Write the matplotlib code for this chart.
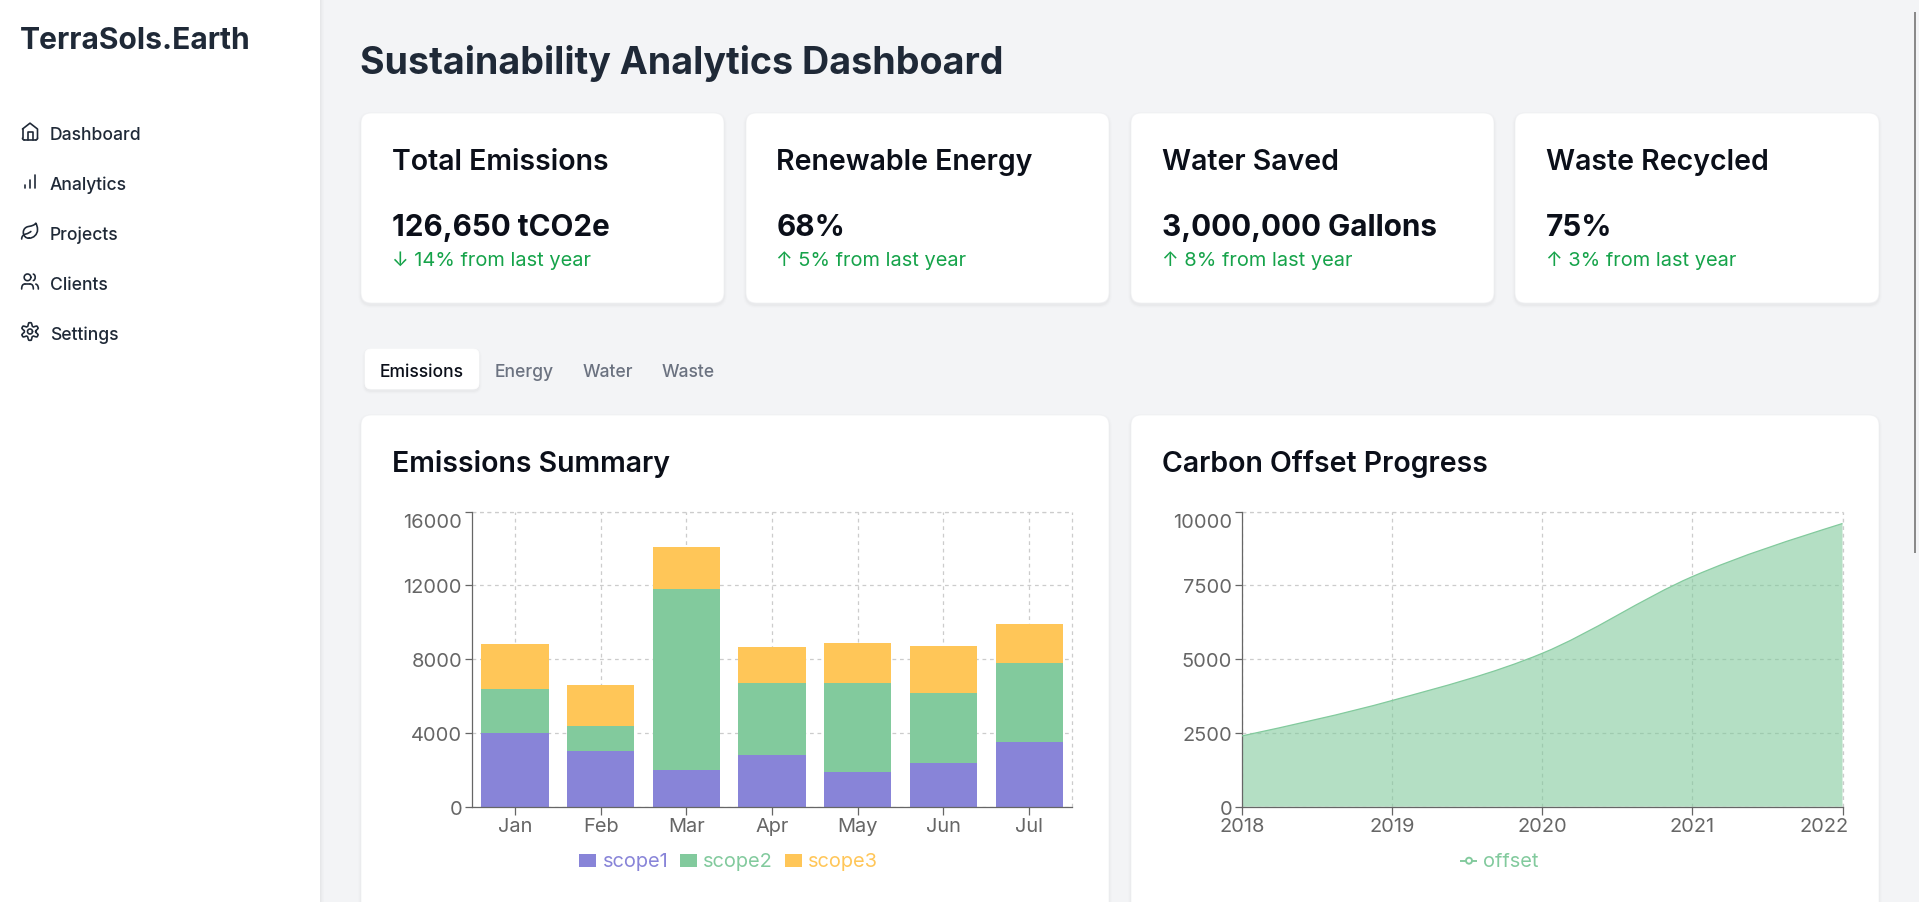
import numpy as np
import matplotlib
matplotlib.use('Agg')
import matplotlib.pyplot as plt
from matplotlib.patches import FancyBboxPatch, Rectangle, PathPatch, Circle
from matplotlib.path import Path
from matplotlib.transforms import ScaledTranslation

plt.rcParams['font.family'] = ['Inter', 'DejaVu Sans']
plt.rcParams['lines.scale_dashes'] = False

# chart data
months = ['Jan', 'Feb', 'Mar', 'Apr', 'May', 'Jun', 'Jul']
scope1 = [4000, 3000, 2000, 2780, 1890, 2390, 3490]
scope2 = [2400, 1398, 9800, 3908, 4800, 3800, 4300]
scope3 = [2400, 2210, 2290, 2000, 2181, 2500, 2100]
scope_names = ['scope1', 'scope2', 'scope3']
years = [2018, 2019, 2020, 2021, 2022]
offset = [2400, 3600, 5200, 7800, 9600]
bar_yticks = [0, 4000, 8000, 12000, 16000]
area_yticks = [0, 2500, 5000, 7500, 10000]

# page text
nav_items = ['Dashboard', 'Analytics', 'Projects', 'Clients', 'Settings']
card_titles = ['Total Emissions', 'Renewable Energy', 'Water Saved', 'Waste Recycled']
card_values = ['126,650 tCO2e', '68%', '3,000,000 Gallons', '75%']
card_deltas = ['↓ 14% from last year', '↑ 5% from last year', '↑ 8% from last year', '↑ 3% from last year']
tabs = ['Emissions', 'Energy', 'Water', 'Waste']

PX = 0.72  # one pixel in points at dpi 100
INK = '#1f2937'
TITLE_INK = '#0b0f19'
GREEN = '#16a34a'
AXIS = '#666666'
GRID = '#cccccc'
colors = ['#8884d8', '#82ca9d', '#ffc658']

fig = plt.figure(figsize=(19.19, 9.03), dpi=100, facecolor='#f3f4f6')
page = fig.add_axes([0, 0, 1, 1])
page.set_xlim(0, 1919)
page.set_ylim(903, 0)
page.axis('off')


def card(x0, y0, x1, y1, radius=10, edge='#f0f1f3'):
    for grow, alpha in [(3, 0.008), (2, 0.012), (1, 0.02)]:
        page.add_patch(FancyBboxPatch((x0 - grow, y0 - grow + 2), x1 - x0 + 2 * grow, y1 - y0 + 2 * grow,
                                      boxstyle='round,pad=0,rounding_size=%g' % (radius + grow),
                                      fc='black', ec='none', alpha=alpha))
    page.add_patch(FancyBboxPatch((x0, y0), x1 - x0, y1 - y0,
                                  boxstyle='round,pad=0,rounding_size=%g' % radius,
                                  fc='white', ec=edge, lw=0.5))


def label(x, y, s, size, weight='normal', color=INK, **kw):
    page.text(x, y, s, fontsize=size * PX, fontweight=weight, color=color, va='baseline', **kw)


# sidebar
for i, a in enumerate([0.05, 0.035, 0.02, 0.01]):
    page.add_patch(Rectangle((320 + i, 0), 1, 903, fc='black', ec='none', alpha=a))
page.add_patch(Rectangle((0, 0), 320, 903, fc='white', ec='none'))
label(20, 49, 'TerraSols.Earth', 30, 'bold')


def seg(*pts):
    return Path(pts)


def curve(start, *beziers):
    verts = [start]
    codes = [Path.MOVETO]
    for b in beziers:
        verts += list(b)
        codes += [Path.CURVE4] * 3
    return Path(verts, codes)


def circle(cx, cy, r):
    t = np.linspace(0, 2 * np.pi, 40)
    return Path(np.c_[cx + r * np.cos(t), cy + r * np.sin(t)])


gear_t = np.linspace(0, 2 * np.pi, 161)
gear_r = 8.7 + 1.9 * np.clip(-1.5 * np.cos(6 * gear_t), -1, 1)
icons = [
    [seg((3, 9), (12, 2), (21, 9), (21, 20)),
     curve((21, 20), ((21, 21.2), (20.2, 22), (19, 22))),
     seg((19, 22), (5, 22)),
     curve((5, 22), ((3.8, 22), (3, 21.2), (3, 20))),
     seg((3, 20), (3, 9)),
     seg((9, 22), (9, 12), (15, 12), (15, 22))],
    [seg((18, 20), (18, 4)), seg((12, 20), (12, 10)), seg((6, 20), (6, 16))],
    [curve((11, 20), ((7, 20.5), (3.7, 16.8), (4, 12.6)), ((4.2, 9.2), (6.6, 6.7), (9.8, 6.1)),
           ((15.5, 5), (17, 4.48), (19, 2)), ((20, 4), (21, 6.18), (21, 10)), ((21, 15.5), (16.22, 20), (11, 20))),
     curve((2, 21), ((2, 18), (3.85, 15.64), (7.08, 15)), ((9.5, 14.52), (12, 13), (13, 12)))],
    [curve((16, 21), ((16, 17.5), (15, 15), (12, 15))),
     seg((12, 15), (6, 15)),
     curve((6, 15), ((3, 15), (2, 17.5), (2, 21))),
     circle(9, 7, 4),
     curve((22, 21), ((22, 18.5), (21.5, 16), (19, 15.13))),
     curve((16, 3.13), ((19, 3.9), (19, 10.1), (16, 10.88)))],
    [Path(np.c_[12 + gear_r * np.cos(gear_t), 12 + gear_r * np.sin(gear_t)]), circle(12, 12, 3)],
]

for i, name in enumerate(nav_items):
    y = 140 + 50 * i
    label(50, y, name, 17.5, 'medium')
    for p in icons[i]:
        v = p.vertices * (20 / 24) + [20, y - 17.5]
        page.add_patch(PathPatch(Path(v, p.codes), fc='none', ec=INK, lw=1.65 * PX, capstyle='round', joinstyle='round'))

# header and stat cards
label(360.5, 74.5, 'Sustainability Analytics Dashboard', 37.6, 'bold')
card_x = [(361, 724), (746, 1109), (1131, 1494), (1515, 1879)]
for (x0, x1), t, v, d in zip(card_x, card_titles, card_values, card_deltas):
    card(x0, 114, x1, 304)
    label(x0 + 30.5, 170, t, 28.5, 'semibold', TITLE_INK)
    label(x0 + 30.5, 236, v, 29.7, 'bold', TITLE_INK)
    label(x0 + 30.5, 266, d, 20, 'normal', GREEN)

# tabs
card(365, 350, 479, 390, radius=6, edge='white')
tab_x = [380, 494.5, 583, 662]
for i, (x, t) in enumerate(zip(tab_x, tabs)):
    label(x, 377, t, 17.5, 'medium', TITLE_INK if i == 0 else '#6b7280')

# chart cards
card(361, 416, 1109, 1000)
card(1131, 416, 1879, 1000)
label(391.5, 472, 'Emissions Summary', 28.5, 'semibold', TITLE_INK)
label(1161.5, 472, 'Carbon Offset Progress', 28.5, 'semibold', TITLE_INK)

# scrollbar
page.add_patch(Rectangle((1914, 13), 2, 541, fc='#8a8a8a', ec='none'))


def chart_axes(x0, x1):
    y0, y1 = 512.7, 807.7
    ax = fig.add_axes([x0 / 1919, 1 - y1 / 903, (x1 - x0) / 1919, (y1 - y0) / 903])
    ax.patch.set_alpha(0)
    for s in ['top', 'right']:
        ax.spines[s].set_visible(False)
    for s in ['left', 'bottom']:
        ax.spines[s].set_color(AXIS)
        ax.spines[s].set_linewidth(1.25 * PX)
    ax.tick_params(length=7.5 * PX, width=1.25 * PX, color=AXIS, labelcolor=AXIS, labelsize=20 * PX)
    ax.tick_params(axis='y', pad=2.5 * PX)
    ax.tick_params(axis='x', pad=3 * PX)
    ax.grid(True, color=GRID, lw=1.25 * PX, linestyle=(0, (3.75 * PX, 3.75 * PX)))
    ax.set_axisbelow(True)
    return ax


def nudge(lbl, dx, dy):
    lbl.set_transform(lbl.get_transform() + ScaledTranslation(dx / 100, -dy / 100, fig.dpi_scale_trans))


grid_style = dict(color=GRID, lw=1.25 * PX, linestyle=(0, (3.75 * PX, 3.75 * PX)), zorder=1)

# stacked bars
ax1 = chart_axes(472, 1072)
pos = np.arange(len(months))
bottom = np.zeros(len(months))
for vals, c in zip([scope1, scope2, scope3], colors):
    ax1.bar(pos, vals, 0.785, bottom=bottom, color=c, zorder=2)
    bottom += np.array(vals)
ax1.set_xlim(-0.5, 6.5)
ax1.set_ylim(0, 16000)
ax1.set_xticks(pos, months)
ax1.set_yticks(bar_yticks)
ax1.axhline(16000, clip_on=False, **grid_style)
ax1.axvline(6.5, clip_on=False, **grid_style)
nudge(ax1.get_yticklabels()[-1], 0, 8)

# d3 monotone curve through the yearly values
ax2 = chart_axes(1242, 1842.5)
xs = np.array(years, dtype=float)
ys = np.array(offset, dtype=float)
h = np.diff(xs)
s = np.diff(ys) / h
m = np.zeros(len(xs))
for i in range(1, len(xs) - 1):
    p = (s[i - 1] * h[i] + s[i] * h[i - 1]) / (h[i - 1] + h[i])
    m[i] = (np.sign(s[i - 1]) + np.sign(s[i])) * min(abs(s[i - 1]), abs(s[i]), 0.5 * abs(p))
m[0] = (3 * s[0] - m[1]) / 2
m[-1] = (3 * s[-1] - m[-2]) / 2
verts = [(xs[0], ys[0])]
for i in range(len(xs) - 1):
    verts += [(xs[i] + h[i] / 3, ys[i] + h[i] / 3 * m[i]),
              (xs[i + 1] - h[i] / 3, ys[i + 1] - h[i] / 3 * m[i + 1]),
              (xs[i + 1], ys[i + 1])]
codes = [Path.MOVETO] + [Path.CURVE4] * (len(verts) - 1)
line_path = Path(verts, codes)
area_path = Path(verts + [(xs[-1], 0), (xs[0], 0), (xs[0], ys[0])],
                 codes + [Path.LINETO, Path.LINETO, Path.LINETO])
ax2.add_patch(PathPatch(area_path, fc=colors[1], ec='none', alpha=0.6, zorder=2))
ax2.add_patch(PathPatch(line_path, fc='none', ec=colors[1], lw=1.25 * PX, zorder=3))
ax2.set_xlim(years[0], years[-1])
ax2.set_ylim(0, 10000)
ax2.set_xticks(years, [str(y) for y in years])
ax2.set_yticks(area_yticks)
ax2.axhline(10000, clip_on=False, **grid_style)
ax2.axvline(years[-1], clip_on=False, **grid_style)
nudge(ax2.get_yticklabels()[-1], 0, 8)
nudge(ax2.get_xticklabels()[-1], -18.5, 0)

# legends
for x, tx, name, c in zip([579, 680, 785], [603, 703, 808], scope_names, colors):
    page.add_patch(Rectangle((x, 855), 17, 13, fc=c, ec='none'))
    label(tx, 867, name, 20, 'normal', c)
page.plot([1460, 1477], [861.7, 861.7], color=colors[1], lw=1.9 * PX, solid_capstyle='butt')
page.add_patch(Circle((1469, 861.7), 3, fc='white', ec=colors[1], lw=1.9 * PX, zorder=3))
label(1483, 867, 'offset', 20, 'normal', colors[1])

fig.savefig('out.png', dpi=100, facecolor=fig.get_facecolor())
